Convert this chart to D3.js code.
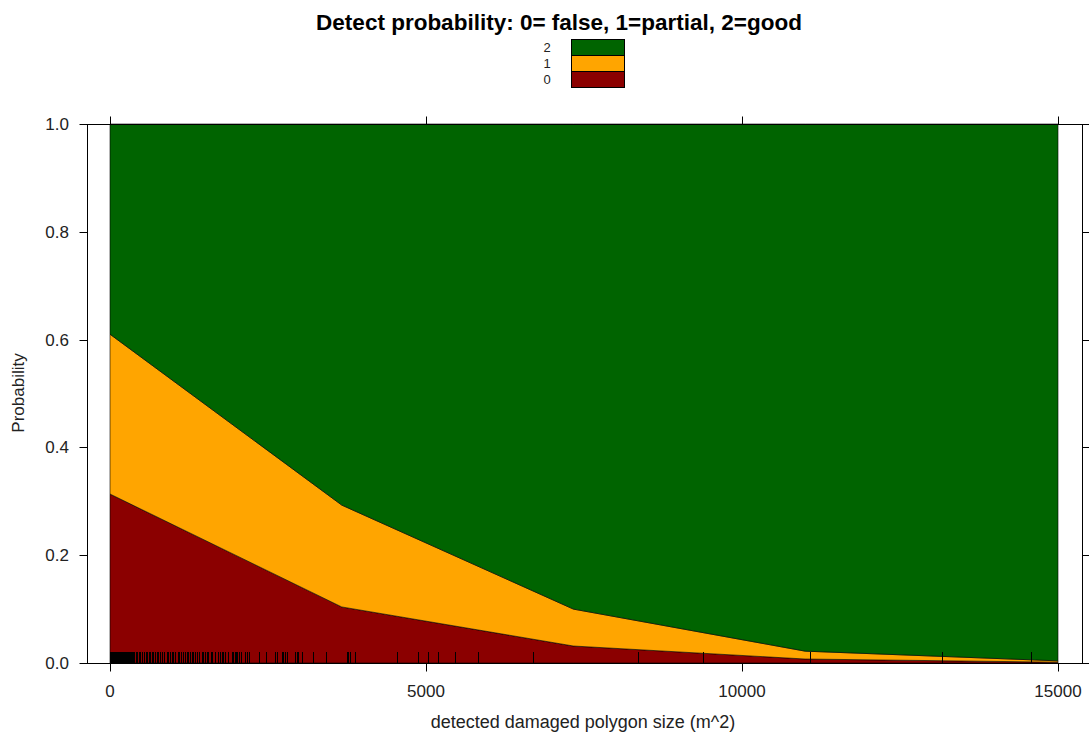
<!DOCTYPE html>
<html>
<head>
<meta charset="utf-8">
<script src="https://cdn.jsdelivr.net/npm/d3@7"></script>
<style>
  html, body { margin: 0; padding: 0; background: #fff; }
  svg { display: block; }
  text { font-family: "Liberation Sans", Arial, sans-serif; fill: #222; }
</style>
</head>
<body>
<svg id="chart" width="1089" height="735"></svg>
<script>
// ---- data ----
const polygonSize   = [0, 3667, 7333, 11000, 15000];          // m^2
const probFalse     = [0.3135, 0.1040, 0.0315, 0.0074, 0.0015];
const probPartial   = [0.2965, 0.1890, 0.0685, 0.0146, 0.0025];
const probGood      = [0.3900, 0.7070, 0.9000, 0.9780, 0.9960];
const categories    = ["0", "1", "2"];
const categoryColors = ["#8b0000", "#ffa500", "#006400"];
const xTicks        = [0, 5000, 10000, 15000];
const yTicks        = [0, 0.2, 0.4, 0.6, 0.8, 1.0];
const rugValues = [
  0, 5, 10, 18, 25, 32, 40, 48, 55, 62, 70, 80, 90, 100, 110, 120, 130, 140, 150, 160, 170,
  180, 190, 200, 210, 220, 230, 240, 250, 260, 270, 280, 290, 300, 310, 320, 330, 340, 350, 360,
  385, 407, 432, 459, 479, 502, 543, 565, 590, 617, 633, 660, 685, 712, 739, 764, 791, 828,
  859, 897, 922, 949, 976, 1002, 1028, 1071, 1092, 1123, 1160, 1187, 1214, 1239, 1266, 1293,
  1318, 1345, 1372, 1408, 1451, 1476, 1503, 1530, 1555, 1598, 1619, 1661, 1714, 1741, 1767,
  1793, 1820, 1872, 1926, 1951, 1978, 1994, 2014, 2046, 2068, 2136, 2163, 2204, 2362, 2468,
  2611, 2638, 2717, 2742, 2769, 2796, 2927, 2954, 2979, 3033, 3207, 3418, 3745, 3771, 3797,
  3877, 4546, 4878, 5024, 5195, 5451, 5828, 6698, 8359, 9387, 11076, 13169, 14573
];
const titleText = "Detect probability: 0= false, 1=partial, 2=good";
const xLabel = "detected damaged polygon size (m^2)";
const yLabel = "Probability";

// ---- layout ----
const svg = d3.select("#chart");
const panel = { left: 87, right: 1082, top: 124, bottom: 663 };
const x = d3.scaleLinear().domain([0, 15000]).range([110, 1058]);
const y = d3.scaleLinear().domain([0, 1]).range([panel.bottom, panel.top]);

const rows = polygonSize.map((s, i) => ({ size: s, "0": probFalse[i], "1": probPartial[i], "2": probGood[i] }));
const stacked = d3.stack().keys(categories)(rows);

const area = d3.area()
  .x(d => x(d.data.size))
  .y0(d => y(d[0]))
  .y1(d => y(d[1]));

const plotG = svg.append("g");
plotG.selectAll("path.layer")
  .data(stacked)
  .join("path")
  .attr("class", "layer")
  .attr("d", area)
  .attr("fill", (d, i) => categoryColors[i])
  .attr("stroke", "#000")
  .attr("stroke-width", 0.6)
  .attr("stroke-linejoin", "round");

// rug
plotG.selectAll("line.rug")
  .data(rugValues)
  .join("line")
  .attr("class", "rug")
  .attr("x1", d => Math.round(x(d)) + 0.5).attr("x2", d => Math.round(x(d)) + 0.5)
  .attr("y1", panel.bottom - 11).attr("y2", panel.bottom)
  .attr("stroke", "#000").attr("stroke-width", 1);

// panel border
svg.append("rect")
  .attr("x", panel.left + 0.5).attr("y", panel.top + 0.5)
  .attr("width", panel.right - panel.left).attr("height", panel.bottom - panel.top)
  .attr("fill", "none").attr("stroke", "#000").attr("stroke-width", 1);

// axes
const tickLen = 8;
const axG = svg.append("g");
axG.selectAll("line.xb").data(xTicks).join("line")
  .attr("x1", d => Math.round(x(d)) + 0.5).attr("x2", d => Math.round(x(d)) + 0.5)
  .attr("y1", panel.bottom + 0.5).attr("y2", panel.bottom + 0.5 + tickLen)
  .attr("stroke", "#000");
axG.selectAll("line.xt").data(xTicks).join("line")
  .attr("x1", d => Math.round(x(d)) + 0.5).attr("x2", d => Math.round(x(d)) + 0.5)
  .attr("y1", panel.top + 0.5).attr("y2", panel.top + 0.5 - tickLen)
  .attr("stroke", "#000");
axG.selectAll("text.xl").data(xTicks).join("text")
  .attr("x", d => x(d)).attr("y", 697)
  .attr("text-anchor", "middle")
  .attr("font-size", 17)
  .text(d => String(d));
axG.selectAll("line.yl").data(yTicks).join("line")
  .attr("x1", panel.left + 0.5).attr("x2", panel.left + 0.5 - tickLen)
  .attr("y1", d => Math.round(y(d)) + 0.5).attr("y2", d => Math.round(y(d)) + 0.5)
  .attr("stroke", "#000");
axG.selectAll("line.yr").data(yTicks).join("line")
  .attr("x1", panel.right + 0.5).attr("x2", panel.right + 0.5 + tickLen)
  .attr("y1", d => Math.round(y(d)) + 0.5).attr("y2", d => Math.round(y(d)) + 0.5)
  .attr("stroke", "#000");
axG.selectAll("text.yt").data(yTicks).join("text")
  .attr("x", 69).attr("y", d => y(d) + 6)
  .attr("text-anchor", "end")
  .attr("font-size", 17)
  .text(d => d.toFixed(1));

// axis labels
svg.append("text")
  .attr("x", 583).attr("y", 728)
  .attr("text-anchor", "middle").attr("font-size", 18)
  .text(xLabel);
svg.append("text")
  .attr("transform", "translate(24,393) rotate(-90)")
  .attr("text-anchor", "middle").attr("font-size", 17)
  .text(yLabel);

// title
svg.append("text")
  .attr("x", 559).attr("y", 30)
  .attr("text-anchor", "middle").attr("font-size", 22.5).attr("font-weight", "bold")
  .style("fill", "#000")
  .text(titleText);

// legend (top-to-bottom: 2, 1, 0)
const legendOrder = categories.slice().reverse();
const legG = svg.append("g");
const legY = d3.scaleBand().domain(legendOrder).range([39.5, 87.5]);
legG.selectAll("rect").data(legendOrder).join("rect")
  .attr("x", 571.5).attr("y", d => legY(d))
  .attr("width", 53).attr("height", legY.bandwidth())
  .attr("fill", d => categoryColors[categories.indexOf(d)])
  .attr("stroke", "#000").attr("stroke-width", 1);
legG.selectAll("text").data(legendOrder).join("text")
  .attr("x", 547).attr("y", d => legY(d) + legY.bandwidth() / 2 + 4.5)
  .attr("text-anchor", "middle").attr("font-size", 13)
  .text(d => d);
</script>
</body>
</html>
